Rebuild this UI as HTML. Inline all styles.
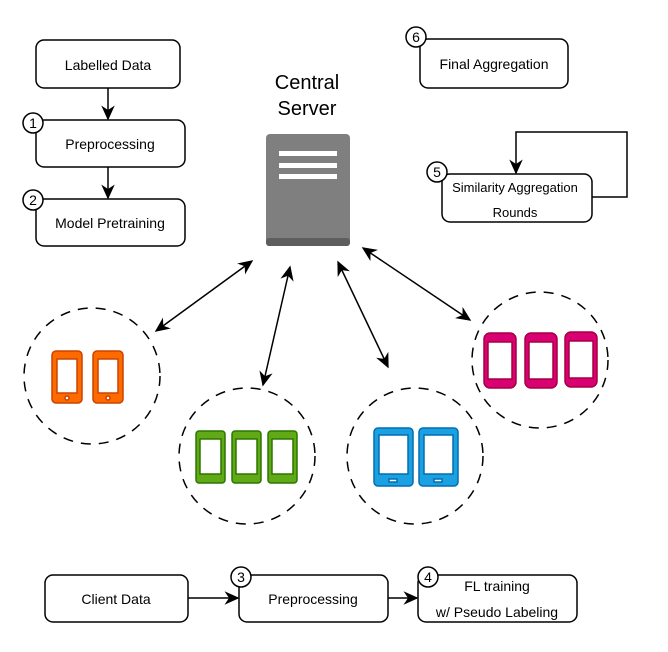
<!DOCTYPE html>
<html><head><style>body{margin:0;background:#fff}svg{display:block}text{font-family:"Liberation Sans",Arial,sans-serif}</style></head><body>
<svg width="668" height="652" viewBox="0 0 668 652" xmlns="http://www.w3.org/2000/svg">
<defs>
<marker id="ah" viewBox="0 0 10 10" refX="9" refY="5" markerWidth="15" markerHeight="15" markerUnits="userSpaceOnUse" orient="auto-start-reverse">
<path d="M0,0.5 L10,5 L0,9.5 L3,5 z" fill="#000"/></marker>
</defs>
<g fill="#fff" stroke="#000" stroke-width="1.5">
<rect x="36" y="40" width="144" height="48" rx="8"/>
<rect x="36" y="120" width="149" height="47" rx="8"/>
<rect x="36" y="199" width="149" height="47" rx="8"/>
<rect x="420" y="39" width="148" height="49" rx="8"/>
<rect x="442" y="174" width="150" height="48" rx="8"/>
<rect x="45" y="575" width="143" height="47" rx="8"/>
<rect x="239" y="575" width="149" height="47" rx="8"/>
<rect x="418" y="575" width="159" height="47" rx="8"/>
</g>
<g fill="none" stroke="#000" stroke-width="1.5">
<line x1="108" y1="88" x2="108" y2="119" marker-end="url(#ah)"/>
<line x1="108" y1="167" x2="108" y2="198" marker-end="url(#ah)"/>
<polyline points="592,197 627,197 627,132 516,132 516,173" marker-end="url(#ah)"/>
<line x1="188" y1="598" x2="238" y2="598" marker-end="url(#ah)"/>
<line x1="388" y1="598" x2="417" y2="598" marker-end="url(#ah)"/>
<line x1="252" y1="261" x2="156" y2="331" marker-start="url(#ah)" marker-end="url(#ah)"/>
<line x1="290" y1="267" x2="263" y2="385" marker-start="url(#ah)" marker-end="url(#ah)"/>
<line x1="338" y1="262" x2="388" y2="367" marker-start="url(#ah)" marker-end="url(#ah)"/>
<line x1="363" y1="248" x2="470" y2="320" marker-start="url(#ah)" marker-end="url(#ah)"/>
<g stroke-dasharray="10,8">
<circle cx="92" cy="376" r="68"/>
<circle cx="247" cy="456" r="68"/>
<circle cx="415" cy="456" r="68"/>
<circle cx="540" cy="360" r="68"/>
</g>
</g>
<g fill="#fff" stroke="#000" stroke-width="1.5">
<circle cx="33" cy="123" r="10"/><circle cx="33" cy="200" r="10"/>
<circle cx="416" cy="37" r="10"/><circle cx="437" cy="172" r="10"/>
<circle cx="241" cy="577" r="10"/><circle cx="428" cy="577" r="10"/>
</g>
<g font-size="14" text-anchor="middle" fill="#000">
<text x="33" y="128">1</text><text x="33" y="205">2</text><text x="416" y="42">6</text>
<text x="437" y="177">5</text><text x="241" y="582">3</text><text x="428" y="582">4</text>
<text x="108" y="70">Labelled Data</text>
<text x="110" y="149">Preprocessing</text>
<text x="110" y="228">Model Pretraining</text>
<text x="494" y="69">Final Aggregation</text>
<text x="515" y="192" font-size="13">Similarity Aggregation</text>
<text x="515" y="217" font-size="13">Rounds</text>
<text x="116" y="604">Client Data</text>
<text x="313" y="604">Preprocessing</text>
<text x="497" y="591">FL training</text>
<text x="497" y="617">w/ Pseudo Labeling</text>
<text x="307" y="89" font-size="20">Central</text>
<text x="307" y="115" font-size="20">Server</text>
</g>
<rect x="266" y="134" width="84" height="112" rx="4" fill="#7f7f7f"/>
<rect x="266" y="238" width="84" height="8" rx="3" fill="#5e5e5e"/>
<g fill="#fff"><rect x="279" y="151" width="58" height="5"/><rect x="279" y="163" width="58" height="5"/><rect x="279" y="174" width="58" height="5"/></g>
<g stroke="#c94400" stroke-width="1.5">
<rect x="52" y="351" width="30" height="52" rx="4" fill="#fe6a00"/>
<rect x="93" y="351" width="30" height="52" rx="4" fill="#fe6a00"/>
<rect x="57" y="359" width="20" height="34" fill="#fff"/>
<rect x="98" y="359" width="20" height="34" fill="#fff"/>
<circle cx="67" cy="398" r="2" fill="#fff"/><circle cx="108" cy="398" r="2" fill="#fff"/>
</g>
<g stroke="#2d7600" stroke-width="1.5">
<rect x="196" y="431" width="29" height="52" rx="3" fill="#60a917"/>
<rect x="232" y="431" width="29" height="52" rx="3" fill="#60a917"/>
<rect x="268" y="431" width="29" height="52" rx="3" fill="#60a917"/>
<rect x="200" y="439" width="21" height="35" fill="#fff"/>
<rect x="236" y="439" width="21" height="35" fill="#fff"/>
<rect x="272" y="439" width="21" height="35" fill="#fff"/>
</g>
<g stroke="#006eaf" stroke-width="1.5">
<rect x="374" y="428" width="39" height="58" rx="4" fill="#1ba1e2"/>
<rect x="419" y="428" width="39" height="58" rx="4" fill="#1ba1e2"/>
<rect x="379" y="435" width="29" height="39" fill="#fff"/>
<rect x="424" y="435" width="29" height="39" fill="#fff"/>
<rect x="389" y="479" width="8" height="3" fill="#fff"/><rect x="434" y="479" width="8" height="3" fill="#fff"/>
</g>
<g stroke="#a50040" stroke-width="1.5">
<rect x="484" y="333" width="32" height="55" rx="6" fill="#d80073"/>
<rect x="525" y="333" width="32" height="55" rx="6" fill="#d80073"/>
<rect x="565" y="332" width="32" height="55" rx="6" fill="#d80073"/>
<rect x="488" y="342" width="24" height="37" fill="#fff"/>
<rect x="529" y="342" width="24" height="37" fill="#fff"/>
<rect x="569" y="341" width="24" height="37" fill="#fff"/>
</g>
</svg>
</body></html>
